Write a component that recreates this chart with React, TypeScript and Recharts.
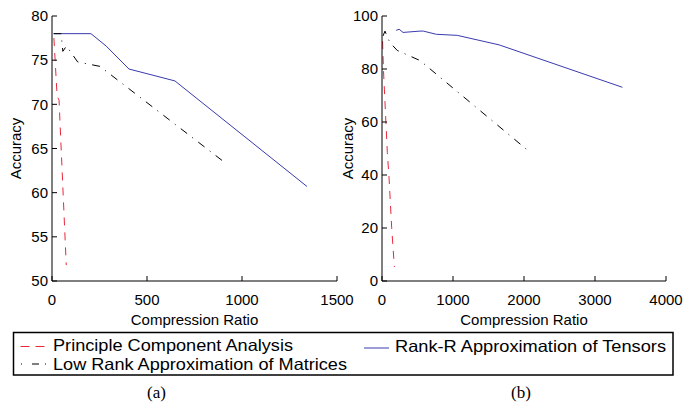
import React from 'react';
import { LineChart, Line, XAxis, YAxis } from 'recharts';

const FONT = '"Liberation Sans", Arial, Helvetica, sans-serif';
const SERIF = '"Liberation Serif", "Times New Roman", serif';

// ---- Panel (a) ----
const aXTicks = [0, 500, 1000, 1500];
const aYTicks = [50, 55, 60, 65, 70, 75, 80];
const aPcaX = [10, 27, 37, 75];
const aPcaY = [77.5, 70.9, 70.5, 51.8];
const aLowX = [8, 48, 57, 76, 135, 252, 910];
const aLowY = [78, 78, 76, 76.6, 74.8, 74.3, 63.4];
const aRankX = [10, 205, 285, 405, 647, 1342];
const aRankY = [78, 78, 76.6, 74.0, 72.65, 60.7];

// ---- Panel (b) ----
const bXTicks = [0, 1000, 2000, 3000, 4000];
const bYTicks = [0, 20, 40, 60, 80, 100];
const bPcaX = [8, 20, 75, 99, 136, 174];
const bPcaY = [90.5, 80, 48.5, 39, 20.3, 5.3];
const bLowX = [15, 42, 110, 215, 535, 2044];
const bLowY = [92.5, 94.3, 90, 87, 83.2, 49.5];
const bRankX = [200, 242, 296, 535, 582, 765, 1060, 1650, 3386];
const bRankY = [94.6, 95.0, 93.8, 94.3, 94.3, 93.1, 92.7, 89.1, 73.1];

const legendNames = [
  'Principle Component Analysis',
  'Low Rank Approximation of Matrices',
  'Rank-R Approximation of Tensors',
];

const RED = '#e8283a';
const BLUE = '#3a3aae';
const BLACK = '#000';

const zip = (xs: number[], ys: number[]) => xs.map((x, i) => ({ x, y: ys[i] }));

const EmptyTick = () => <g />;

const accLabel = (bx: number) => (props: any) => {
  const vb = props.viewBox || {};
  const cy = (vb.y ?? 16) + (vb.height ?? 265) / 2;
  return (
    <text
      x={bx}
      y={cy}
      transform={`rotate(-90 ${bx} ${cy})`}
      textAnchor="middle"
      fontSize={15}
      fontFamily={FONT}
      fill="#000"
    >
      Accuracy
    </text>
  );
};

const tickStyle = { fill: '#000', fontSize: 15, fontFamily: FONT };

function Panel(props: {
  width: number;
  right: number;
  xTicks: number[];
  yTicks: number[];
  xDomain: [number, number];
  yDomain: [number, number];
  pca: { x: number; y: number }[];
  low: { x: number; y: number }[];
  rank: { x: number; y: number }[];
  accX: number;
}) {
  const { width, right, xTicks, yTicks, xDomain, yDomain, pca, low, rank, accX } = props;
  return (
    <LineChart width={width} height={330} margin={{ top: 16, right, bottom: 0, left: 0 }}>
      <XAxis
        xAxisId="b"
        type="number"
        dataKey="x"
        domain={xDomain}
        ticks={xTicks}
        interval={0}
        allowDataOverflow
        height={49}
        tickSize={-5}
        tickMargin={18}
        stroke="#000"
        tick={tickStyle}
        label={{ value: 'Compression Ratio', position: 'insideBottom', offset: 5, fill: '#000', fontSize: 15, fontFamily: FONT }}
      />
      <XAxis
        xAxisId="t"
        orientation="top"
        type="number"
        dataKey="x"
        domain={xDomain}
        ticks={xTicks}
        interval={0}
        allowDataOverflow
        height={0}
        tickSize={-5}
        stroke="#000"
        tick={EmptyTick}
      />
      <YAxis
        yAxisId="l"
        type="number"
        domain={yDomain}
        ticks={yTicks}
        interval={0}
        allowDataOverflow
        width={52}
        tickSize={-5}
        tickMargin={9}
        stroke="#000"
        tick={tickStyle}
        label={accLabel(accX)}
      />
      <YAxis
        yAxisId="r"
        orientation="right"
        type="number"
        domain={yDomain}
        ticks={yTicks}
        interval={0}
        allowDataOverflow
        width={0}
        tickSize={-5}
        stroke="#000"
        tick={EmptyTick}
      />
      <Line xAxisId="b" yAxisId="l" data={rank} dataKey="y" stroke={BLUE} strokeWidth={1} dot={false} isAnimationActive={false} name={legendNames[2]} />
      <Line xAxisId="b" yAxisId="l" data={low} dataKey="y" stroke={BLACK} strokeWidth={1} strokeDasharray="8 6.5 1 6.5" dot={false} isAnimationActive={false} name={legendNames[1]} />
      <Line xAxisId="b" yAxisId="l" data={pca} dataKey="y" stroke={RED} strokeWidth={1} strokeDasharray="8 7" dot={false} isAnimationActive={false} name={legendNames[0]} />
    </LineChart>
  );
}

export default function App() {
  return (
    <div style={{ position: 'absolute', left: 0, top: 0, width: 684, height: 403, background: '#fff', overflow: 'hidden' }}>
      <div style={{ position: 'absolute', left: 0, top: 0 }}>
        <Panel
          width={362}
          right={25}
          xTicks={aXTicks}
          yTicks={aYTicks}
          xDomain={[0, 1500]}
          yDomain={[50, 80]}
          pca={zip(aPcaX, aPcaY)}
          low={zip(aLowX, aLowY)}
          rank={zip(aRankX, aRankY)}
          accX={21}
        />
      </div>
      <div style={{ position: 'absolute', left: 330, top: 0 }}>
        <Panel
          width={354}
          right={18}
          xTicks={bXTicks}
          yTicks={bYTicks}
          xDomain={[0, 4000]}
          yDomain={[0, 100]}
          pca={zip(bPcaX, bPcaY)}
          low={zip(bLowX, bLowY)}
          rank={zip(bRankX, bRankY)}
          accX={23}
        />
      </div>
      <svg
        width={684}
        height={80}
        style={{ position: 'absolute', left: 0, top: 323 }}
      >
        <g transform="translate(0,-323)">
          <rect x={13.5} y={332.5} width={659.5} height={42.5} fill="#fff" stroke="#000" strokeWidth={1.5} />
          <line x1={20.5} x2={46} y1={346.5} y2={346.5} stroke={RED} strokeWidth={1} strokeDasharray="9 6" />
          <text x={53} y={351} fontSize={16.5} fontFamily={FONT} fill="#000" textLength={240} lengthAdjust="spacingAndGlyphs">{legendNames[0]}</text>
          <line x1={21} x2={46} y1={364} y2={364} stroke={BLACK} strokeWidth={1} strokeDasharray="1 10 7 6 1 20" />
          <text x={53} y={369.5} fontSize={16.5} fontFamily={FONT} fill="#000" textLength={294} lengthAdjust="spacingAndGlyphs">{legendNames[1]}</text>
          <line x1={364} x2={389} y1={348} y2={348} stroke={BLUE} strokeWidth={1} />
          <text x={395} y={352} fontSize={16.5} fontFamily={FONT} fill="#000" textLength={271} lengthAdjust="spacingAndGlyphs">{legendNames[2]}</text>
          <text x={156.5} y={397.5} fontSize={17} fontFamily={SERIF} textAnchor="middle" fill="#000">(a)</text>
          <text x={521} y={397.5} fontSize={17} fontFamily={SERIF} textAnchor="middle" fill="#000">(b)</text>
        </g>
      </svg>
    </div>
  );
}
